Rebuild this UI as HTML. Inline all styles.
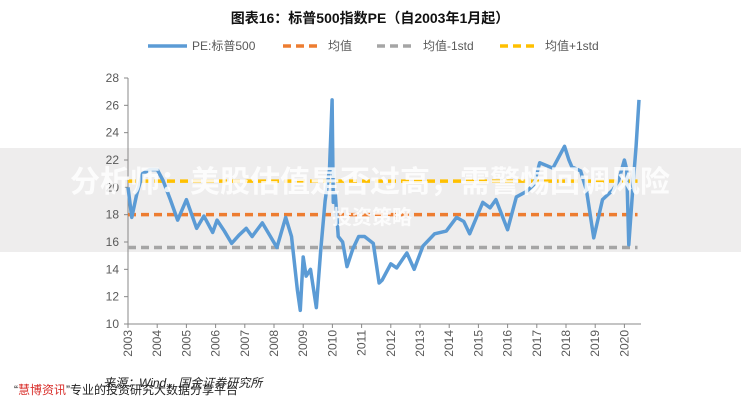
<!DOCTYPE html>
<html><head><meta charset="utf-8"><style>
body{margin:0;width:741px;height:400px;background:#fff;overflow:hidden;font-family:"Liberation Sans","Noto Sans CJK SC",sans-serif;}
svg{display:block}
</style></head><body>
<svg id="c" width="741" height="400" xmlns="http://www.w3.org/2000/svg">
<rect x="0" y="148" width="741" height="104" fill="#eeeded"/>
<text x="370" y="23" text-anchor="middle" font-size="14" font-weight="bold" fill="#111">图表16：标普500指数PE（自2003年1月起）</text>
<g font-size="12" fill="#595959">
<line x1="148" y1="46" x2="187" y2="46" stroke="#5b9bd5" stroke-width="3.5"/>
<text x="192" y="50">PE:标普500</text>
<line x1="283" y1="46" x2="320" y2="46" stroke="#ed7d31" stroke-width="3.5" stroke-dasharray="8,5"/>
<text x="328" y="50">均值</text>
<line x1="377" y1="46" x2="414" y2="46" stroke="#a5a5a5" stroke-width="3.5" stroke-dasharray="8,5"/>
<text x="423" y="50">均值-1std</text>
<line x1="500" y1="46" x2="537" y2="46" stroke="#ffc000" stroke-width="3.5" stroke-dasharray="8,5"/>
<text x="545" y="50">均值+1std</text>
</g>
<g id="axes"></g>
<g id="plot"></g>
<text x="370" y="192" text-anchor="middle" font-size="30" font-weight="bold" fill="#fff" opacity="0.85">分析师：美股估值是否过高，需警惕回调风险</text>
<text x="372" y="224" text-anchor="middle" font-size="20" font-weight="bold" fill="#fff" opacity="0.85">投资策略</text>
<text x="103" y="387" font-size="12" font-style="italic" fill="#222">来源：Wind，国金证券研究所</text>
<text x="14" y="394" font-size="12" fill="#222">“<tspan fill="#d9302c">慧博资讯</tspan>”专业的投资研究大数据分享平台</text>
</svg>
<script>
const yTicks=[10,12,14,16,18,20,22,24,26,28];
const years=[2003,2004,2005,2006,2007,2008,2009,2010,2011,2012,2013,2014,2015,2016,2017,2018,2019,2020];
const dates=[2003.0,2003.13,2003.3,2003.5,2003.75,2004.0,2004.2,2004.45,2004.7,2005.0,2005.35,2005.6,2005.9,2006.05,2006.3,2006.55,2006.8,2007.05,2007.25,2007.6,2007.85,2008.1,2008.4,2008.6,2008.8,2008.9,2009.0,2009.1,2009.25,2009.45,2009.6,2009.75,2009.9,2009.99,2010.03,2010.1,2010.2,2010.35,2010.5,2010.7,2010.9,2011.1,2011.4,2011.6,2011.7,2012.0,2012.2,2012.55,2012.8,2013.1,2013.5,2013.9,2014.25,2014.5,2014.7,2015.15,2015.4,2015.6,2016.0,2016.3,2016.65,2016.9,2017.1,2017.55,2017.95,2018.1,2018.2,2018.5,2018.7,2018.95,2019.25,2019.6,2019.8,2020.0,2020.08,2020.15,2020.3,2020.4,2020.5];
const pe=[20.0,17.8,19.5,21.0,21.3,21.3,20.5,19.1,17.6,19.1,17.0,17.9,16.7,17.6,16.8,15.9,16.5,17.0,16.4,17.4,16.5,15.6,17.8,16.4,12.5,11.0,14.9,13.5,14.0,11.2,15.4,19.0,21.3,26.4,18.9,19.5,16.4,16.0,14.2,15.5,16.4,16.4,15.9,13.0,13.2,14.4,14.1,15.2,14.0,15.7,16.6,16.8,17.8,17.5,16.6,18.9,18.5,19.1,16.9,19.3,19.7,20.2,21.8,21.4,23.0,22.0,21.5,21.2,19.8,16.3,19.1,19.8,20.5,22.0,21.3,15.8,20.3,23.0,26.4];
const meanVal=18.0, minusStd=15.6, plusStd=20.45, lineEnd=2020.45;
const NS="http://www.w3.org/2000/svg";
const X=v=>128+(v-2003)*29.2, Y=v=>324-(v-10)*13.667;
const ax=document.getElementById('axes'), pl=document.getElementById('plot');
function mk(tag,at,parent){const e=document.createElementNS(NS,tag);for(const k in at)e.setAttribute(k,at[k]);parent.appendChild(e);return e;}
let e=mk('line',{x1:128,y1:78,x2:128,y2:324,stroke:'#888'},ax);


e=mk('line',{x1:128,y1:324,x2:641,y2:324,stroke:'#888'},ax);


yTicks.forEach(t=>{
  let l=mk('line',{x1:124,y1:Y(t),x2:128,y2:Y(t),stroke:'#888'},ax);
  
  
  let tx=mk('text',{x:119,y:Y(t)+4,'text-anchor':'end','font-size':12,fill:'#595959'},ax);
  tx.textContent=t;
  
  
});
years.forEach(yr=>{
  const x=X(yr);
  let l=mk('line',{x1:x,y1:324,x2:x,y2:328,stroke:'#888'},ax);
  
  
  let tx=mk('text',{x:0,y:0,'text-anchor':'end','font-size':12,fill:'#595959',transform:`translate(${x+4},330) rotate(-90)`},ax);
  tx.textContent=yr;
  
  
});
[[minusStd,'#a5a5a5','minus-std-line'],[meanVal,'#ed7d31','mean-line'],[plusStd,'#ffc000','plus-std-line']].forEach(([v,c,n])=>{
  let l=mk('line',{x1:X(2003),y1:Y(v),x2:X(lineEnd),y2:Y(v),stroke:c,'stroke-width':3.5,'stroke-dasharray':'8,5'},pl);
  
  
});
const p=mk('polyline',{points:dates.map((d,i)=>X(d)+','+Y(pe[i])).join(' '),fill:'none',stroke:'#5b9bd5','stroke-width':3.5,'stroke-linejoin':'round'},pl);


</script>
</body></html>
